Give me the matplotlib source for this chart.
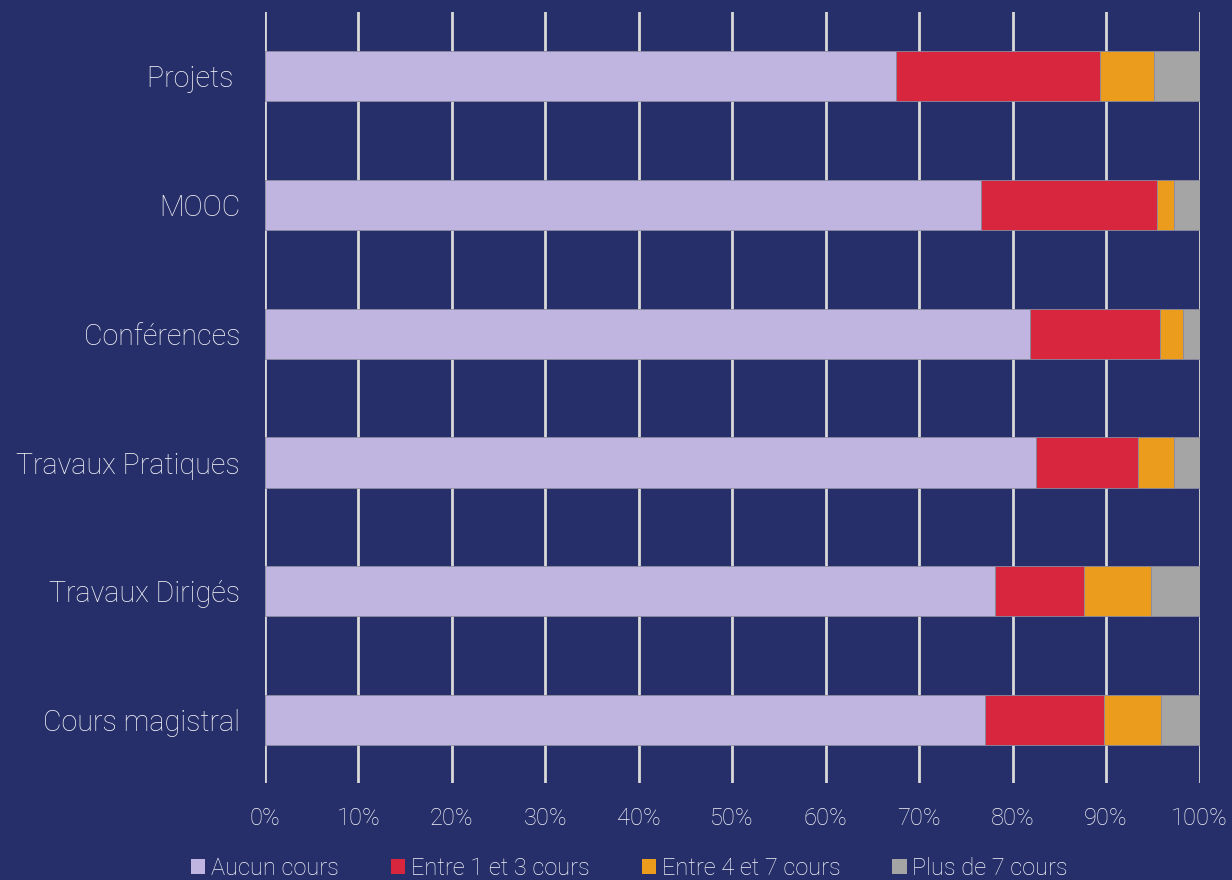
import numpy as np
import matplotlib.pyplot as plt
from matplotlib.patches import Patch

# data (percent of respondents)
categories = ["Cours magistral", "Travaux Dirigés", "Travaux Pratiques",
              "Conférences", "MOOC", "Projets "]
aucun = [77.0, 78.1, 82.5, 81.9, 76.6, 67.5]
entre_1_3 = [12.8, 9.5, 10.9, 13.9, 18.8, 21.9]
entre_4_7 = [6.1, 7.2, 3.9, 2.4, 1.9, 5.7]
plus_7 = [4.1, 5.2, 2.7, 1.8, 2.7, 4.9]
series_names = ["Aucun cours", "Entre 1 et 3 cours", "Entre 4 et 7 cours", "Plus de 7 cours"]
colors = ["#C0B5E0", "#D7263D", "#EB9C1C", "#A5A5A5"]
tick_vals = np.arange(0, 101, 10)

BG = "#262F69"
TXT = "#F4F4F8"

plt.rcParams["font.family"] = ["Roboto", "DejaVu Sans"]
plt.rcParams["font.weight"] = "light"

fig = plt.figure(figsize=(12.32, 8.8), dpi=100, facecolor=BG)
ax = fig.add_axes([265 / 1232, 97 / 880, 934.5 / 1232, 771 / 880])
ax.set_facecolor(BG)

y = np.arange(len(categories))
left = np.zeros(len(categories))
for vals, name, col in zip([aucun, entre_1_3, entre_4_7, plus_7], series_names, colors):
    ax.barh(y, vals, left=left, height=0.39, color=col, edgecolor="#8C8CA0",
            linewidth=0.6, label=name, zorder=3)
    left += np.array(vals)

ax.set_xlim(0, 100)
ax.set_ylim(-0.49, 5.5)
ax.set_xticks(tick_vals)
ax.set_xticklabels([f"{v}%" for v in tick_vals], fontsize=17, color=TXT)
ax.set_yticks(y)
ax.set_yticklabels(categories, fontsize=20.6, color=TXT)
ax.tick_params(axis="both", length=0)
ax.tick_params(axis="y", pad=18)
ax.tick_params(axis="x", pad=17)
ax.grid(axis="x", color="#D9D9D9", linewidth=2, zorder=0)
for s in ax.spines.values():
    s.set_visible(False)

handles = [Patch(facecolor=c, edgecolor="none") for c in colors]
fig.legend(handles, series_names, loc="center", bbox_to_anchor=(0.511, 0.013),
           ncol=4, frameon=False, fontsize=17, labelcolor=TXT,
           handlelength=0.6, handleheight=0.6, handletextpad=0.25,
           columnspacing=2.2)

fig.savefig("out.png", dpi=100, facecolor=BG)
